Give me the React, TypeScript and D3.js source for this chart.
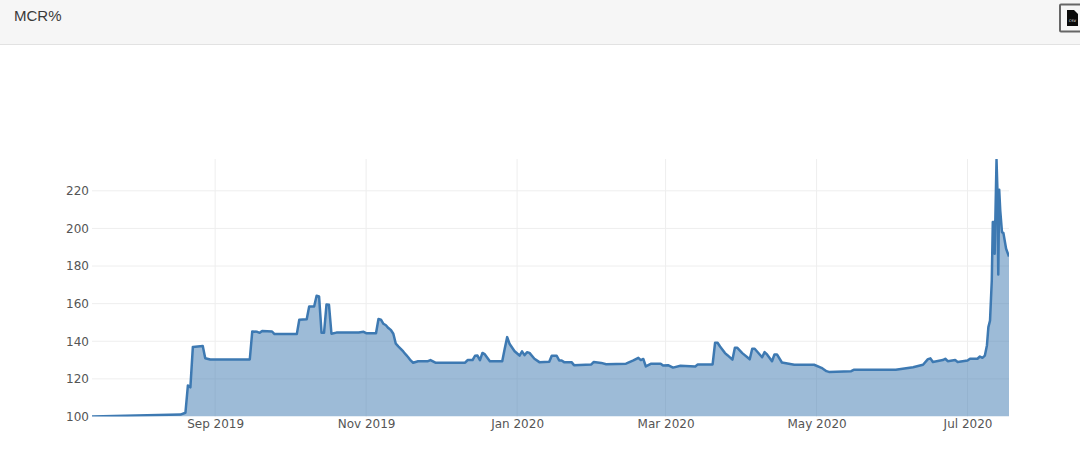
import React, { useEffect, useRef } from 'react';
import * as d3 from 'd3';

const WIDTH = 1080;
const HEIGHT = 459;

// dates are local, an optional " HH" is used where the curve moves faster than a day
const dates = [
  '2019-07-13', '2019-08-18', '2019-08-20', '2019-08-21', '2019-08-22', '2019-08-23', '2019-08-27', '2019-08-28', '2019-08-30',
  '2019-09-15', '2019-09-16', '2019-09-18', '2019-09-19', '2019-09-20', '2019-09-24', '2019-09-25',
  '2019-10-04', '2019-10-05', '2019-10-08', '2019-10-09', '2019-10-11', '2019-10-12', '2019-10-13', '2019-10-14',
  '2019-10-15', '2019-10-16', '2019-10-17', '2019-10-18', '2019-10-20', '2019-10-29', '2019-10-31',
  '2019-11-01', '2019-11-05', '2019-11-06', '2019-11-07', '2019-11-08', '2019-11-09', '2019-11-10', '2019-11-11', '2019-11-12', '2019-11-13',
  '2019-11-14', '2019-11-15', '2019-11-16', '2019-11-17', '2019-11-18', '2019-11-19', '2019-11-20', '2019-11-22', '2019-11-26', '2019-11-27', '2019-11-29',
  '2019-12-11', '2019-12-12', '2019-12-14', '2019-12-15', '2019-12-16', '2019-12-17', '2019-12-18', '2019-12-19',
  '2019-12-21', '2019-12-26', '2019-12-27', '2019-12-28', '2019-12-29', '2019-12-31',
  '2020-01-02', '2020-01-03', '2020-01-04', '2020-01-05', '2020-01-06', '2020-01-08', '2020-01-10', '2020-01-14',
  '2020-01-15', '2020-01-17', '2020-01-18', '2020-01-19', '2020-01-20', '2020-01-23', '2020-01-24', '2020-01-31',
  '2020-02-01', '2020-02-04', '2020-02-06', '2020-02-14', '2020-02-17', '2020-02-19', '2020-02-20', '2020-02-21',
  '2020-02-22', '2020-02-24', '2020-02-28', '2020-02-29', '2020-03-02', '2020-03-04', '2020-03-07', '2020-03-13',
  '2020-03-14', '2020-03-20', '2020-03-21', '2020-03-22', '2020-03-23', '2020-03-24', '2020-03-25', '2020-03-26', '2020-03-27', '2020-03-28', '2020-03-29', '2020-03-30',
  '2020-04-01', '2020-04-04', '2020-04-05', '2020-04-06', '2020-04-09', '2020-04-10', '2020-04-11', '2020-04-13',
  '2020-04-14', '2020-04-15', '2020-04-17', '2020-04-22', '2020-04-30',
  '2020-05-03', '2020-05-05', '2020-05-06', '2020-05-15', '2020-05-16', '2020-05-27',
  '2020-06-02', '2020-06-09', '2020-06-13', '2020-06-15', '2020-06-16', '2020-06-17', '2020-06-21', '2020-06-22',
  '2020-06-23', '2020-06-26', '2020-06-27',
  '2020-07-01', '2020-07-02', '2020-07-05', '2020-07-06', '2020-07-07', '2020-07-08', '2020-07-08 20', '2020-07-09 10',
  '2020-07-10 02', '2020-07-10 19', '2020-07-11 05', '2020-07-11 17', '2020-07-11 23', '2020-07-12 17', '2020-07-13 02',
  '2020-07-13 10', '2020-07-13 19', '2020-07-14 05', '2020-07-14 22', '2020-07-15 12', '2020-07-16 14', '2020-07-17 18',
];

const mcr = [
  100, 101, 102, 116.5, 115.5, 137, 137.5, 131, 130.3,
  130.3, 145.2, 145, 144.5, 145.5, 145.2, 143.8,
  143.8, 151.4, 151.7, 158.5, 158.5, 164.2, 163.8, 144.5,
  144.5, 159.6, 159.4, 144, 144.6, 144.6, 145,
  144.3, 144.3, 151.8, 151.5, 149.3, 148.5, 147, 146, 144, 138.7,
  137.3, 136, 134.6, 133, 131.5, 129.8, 128.6, 129.4, 129.4, 130, 128.6,
  128.6, 130, 130, 132.3, 132.4, 130, 133.8, 133,
  129.4, 129.4, 136, 142.2, 138.5, 134.7,
  132.4, 134.6, 132.6, 134.2, 133.8, 130.7, 128.9, 129.1,
  132.3, 132.3, 129.8, 129.8, 128.9, 128.9, 127.3, 127.7,
  129, 128.5, 127.8, 128.1, 129.8, 131.2, 130, 130.6,
  126.6, 128, 128.1, 127.1, 127.3, 126, 127, 126.6,
  127.7, 127.7, 139.2, 139.2, 137.2, 135.5, 133.7, 132.6, 131.4, 130.2, 136.5, 136.5,
  133.7, 130.4, 136, 136, 131.5, 134.2, 133, 129.4,
  133, 133, 128.7, 127.5, 127.5,
  125.9, 124.1, 123.7, 124.1, 124.8, 124.8,
  124.8, 126.2, 127.5, 130.5, 130.9, 129, 130, 130.7,
  129.4, 130, 129,
  129.8, 130.7, 130.7, 131.9, 131.2, 132.4, 137.8, 147.5,
  151, 172.3, 203.4, 203.4, 186.5, 236.5, 220,
  175.5, 220.6, 209.6, 198, 197.5, 189.2, 185,
];

const xTicks = ['2019-09-01', '2019-11-01', '2020-01-01', '2020-03-01', '2020-05-01', '2020-07-01'];
const yTicks = [100, 120, 140, 160, 180, 200, 220];

const parseDate = d3.timeParse('%Y-%m-%d %H');
const toDate = (s: string) => parseDate(s.length > 10 ? s : `${s} 00`) as Date;

const App: React.FC = () => {
  const svgRef = useRef<SVGSVGElement>(null);

  useEffect(() => {
    if (!svgRef.current) return;
    const svg = d3.select(svgRef.current);
    svg.selectAll('*').remove();

    const margin = { top: 159, right: 71, bottom: 42.5, left: 92 };
    const plotRight = WIDTH - margin.right;
    const plotBottom = HEIGHT - margin.bottom;

    const points = dates.map((d, i) => ({ date: toDate(d), value: mcr[i] }));

    const x = d3.scaleTime()
      .domain([new Date(2019, 6, 13, 6), toDate('2020-07-17 18')])
      .range([margin.left, plotRight]);
    const y = d3.scaleLinear().domain([100, 236.9]).range([plotBottom, margin.top]);

    // --- HEADER BAR ---
    svg.append('rect').attr('width', WIDTH).attr('height', 44).attr('fill', '#f6f6f6');
    svg.append('line')
      .attr('x1', 0).attr('x2', WIDTH)
      .attr('y1', 44.5).attr('y2', 44.5)
      .attr('stroke', '#e2e2e2');
    svg.append('text')
      .attr('x', 14).attr('y', 21)
      .attr('font-family', '"Liberation Sans", sans-serif')
      .attr('font-size', 15)
      .attr('fill', '#3a3a3a')
      .text('MCR%');

    // CSV download button, cut off by the right edge
    svg.append('rect')
      .attr('x', 1060).attr('y', 4.5)
      .attr('width', 30).attr('height', 27)
      .attr('rx', 1)
      .attr('fill', '#f6f6f6')
      .attr('stroke', '#666')
      .attr('stroke-width', 2);
    svg.append('path')
      .attr('d', 'M1067 10h7l4 4v12h-11z')
      .attr('fill', '#0a0a0a');
    svg.append('text')
      .attr('x', 1072.5).attr('y', 22)
      .attr('text-anchor', 'middle')
      .attr('font-family', '"DejaVu Sans", sans-serif')
      .attr('font-size', 4.5)
      .attr('fill', '#ddd')
      .text('csv');

    // --- GRID ---
    const tickDates = xTicks.map(toDate);
    svg.append('g').selectAll('line').data(tickDates).join('line')
      .attr('x1', d => x(d)).attr('x2', d => x(d))
      .attr('y1', margin.top).attr('y2', plotBottom)
      .attr('stroke', '#eee');
    svg.append('g').selectAll('line').data(yTicks.slice(1)).join('line')
      .attr('x1', margin.left).attr('x2', plotRight)
      .attr('y1', d => y(d)).attr('y2', d => y(d))
      .attr('stroke', '#eee');

    // --- AREA + LINE ---
    const clipId = 'mcr-plot-clip';
    svg.append('clipPath').attr('id', clipId).append('rect')
      .attr('x', margin.left).attr('y', margin.top)
      .attr('width', plotRight - margin.left)
      .attr('height', plotBottom - margin.top);

    const plot = svg.append('g').attr('clip-path', `url(#${clipId})`);
    const area = d3.area<{ date: Date; value: number }>()
      .x(d => x(d.date))
      .y0(y(100))
      .y1(d => y(d.value));
    const line = d3.line<{ date: Date; value: number }>()
      .x(d => x(d.date))
      .y(d => y(d.value));

    plot.append('path').datum(points)
      .attr('d', area)
      .attr('fill', 'rgb(60, 120, 175)')
      .attr('fill-opacity', 0.5);
    plot.append('path').datum(points)
      .attr('d', line)
      .attr('fill', 'none')
      .attr('stroke', '#3d79b2')
      .attr('stroke-width', 2.5)
      .attr('stroke-linejoin', 'round');

    // --- AXES ---
    const xAxis = d3.axisBottom(x)
      .tickValues(tickDates)
      .tickSize(0)
      .tickPadding(3)
      .tickFormat(d => d3.timeFormat('%b %Y')(d as Date));
    const yAxis = d3.axisLeft(y)
      .tickValues(yTicks)
      .tickSize(0)
      .tickPadding(3);

    const gx = svg.append('g').attr('transform', `translate(0,${plotBottom})`).call(xAxis);
    const gy = svg.append('g').attr('transform', `translate(${margin.left},0)`).call(yAxis);
    [gx, gy].forEach(g => {
      g.select('.domain').remove();
      g.selectAll('text')
        .attr('font-family', '"DejaVu Sans", sans-serif')
        .attr('font-size', 12)
        .attr('fill', '#555');
    });
  }, []);

  return (
    <div style={{ position: 'fixed', top: 0, left: 0 }}>
      <svg ref={svgRef} width={WIDTH} height={HEIGHT} style={{ display: 'block', background: '#fff' }} />
    </div>
  );
};

export default App;
